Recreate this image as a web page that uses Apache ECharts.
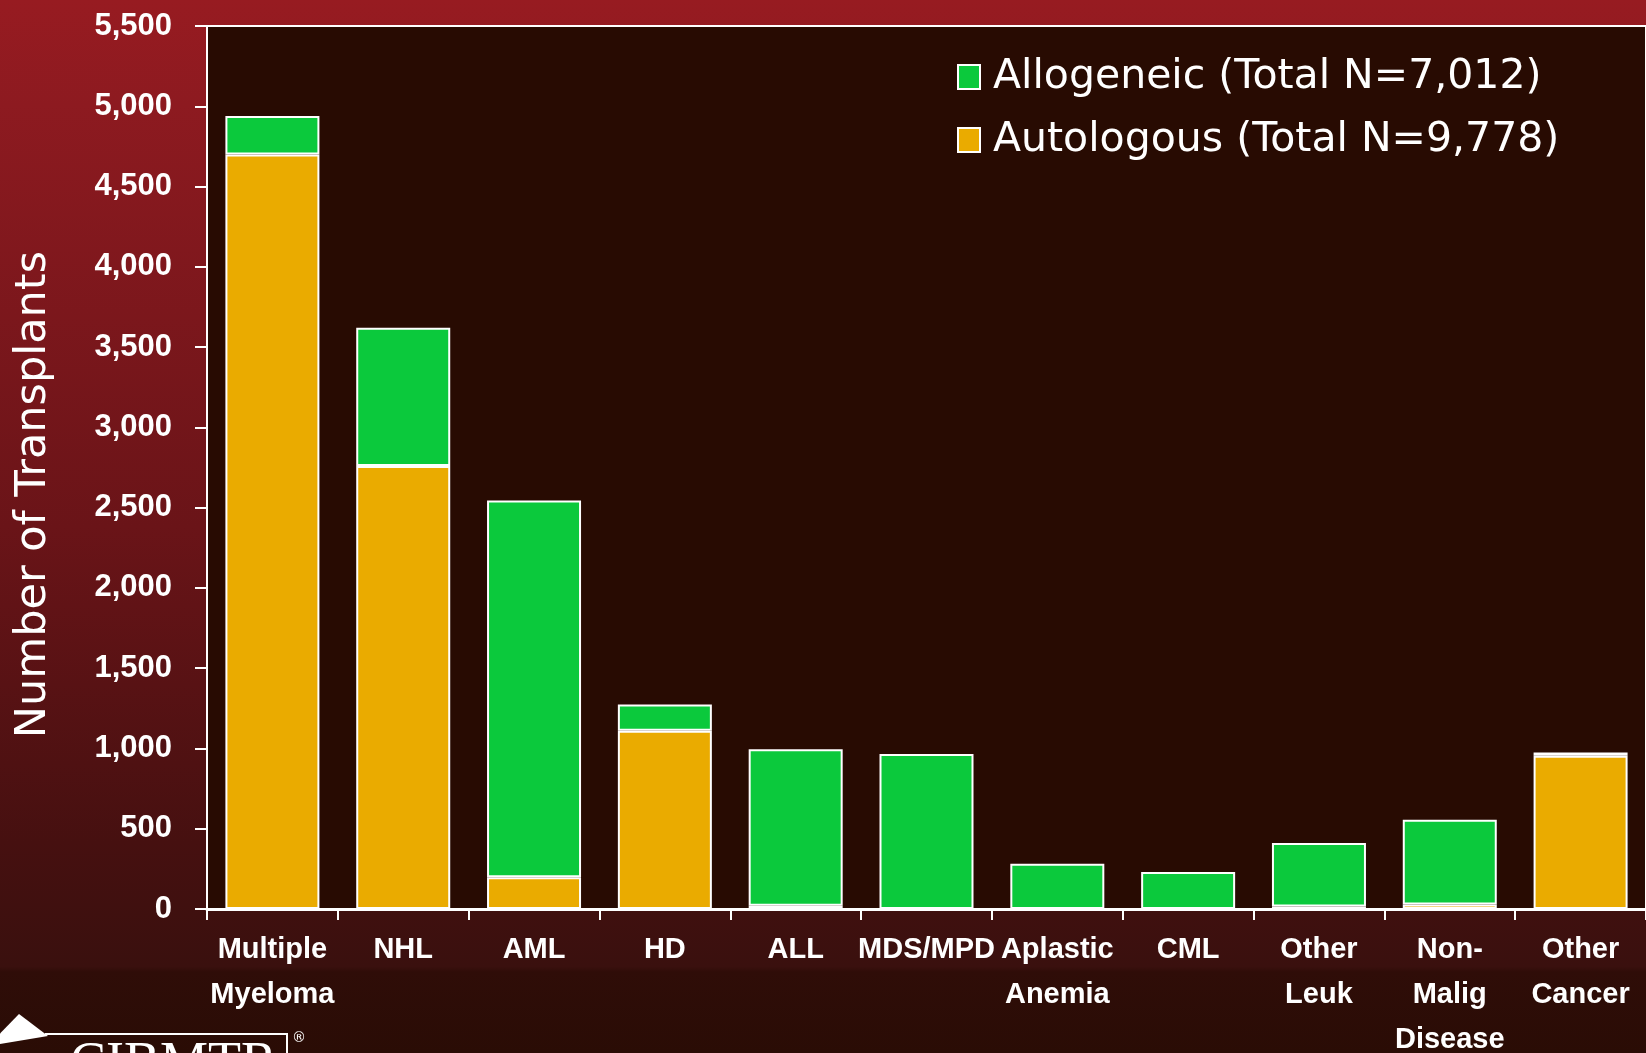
<!DOCTYPE html>
<html>
<head>
<meta charset="utf-8">
<script src="https://cdn.jsdelivr.net/npm/echarts@6/dist/echarts.min.js"></script>
<style>
  html, body { margin: 0; padding: 0; overflow: hidden; background: #2a0c05; }
  #chart { width: 1646px; height: 1053px; }
</style>
</head>
<body>
<div id="chart"></div>
<script>
// transplants by disease, stacked autologous + allogeneic
const categories = ['Multiple\nMyeloma', 'NHL', 'AML', 'HD', 'ALL', 'MDS/MPD',
  'Aplastic\nAnemia', 'CML', 'Other\nLeuk', 'Non-\nMalig\nDisease', 'Other\nCancer'];
const autologous = [4700, 2760, 197, 1110, 20, 0, 0, 0, 15, 28, 955];
const allogeneic = [240, 860, 2347, 164, 975, 965, 282, 230, 396, 528, 20];
const seriesNames = ['Allogeneic (Total N=7,012)', 'Autologous (Total N=9,778)'];
const yMin = 0, yMax = 5500, yStep = 500;

const narrow = "'Liberation Sans Narrow', 'Arial Narrow', 'Liberation Sans', sans-serif";
const plain = "'DejaVu Sans', Verdana, sans-serif";

const chart = echarts.init(document.getElementById('chart'));

function barStyle(color) {
  return { color: color, borderColor: '#ffffff', borderWidth: 2 };
}

chart.setOption({
  animation: false,
  backgroundColor: new echarts.graphic.LinearGradient(0, 0, 0, 1, [
    { offset: 0, color: '#971b21' },
    { offset: 0.1, color: '#8d1a20' },
    { offset: 0.5, color: '#6a1418' },
    { offset: 0.8, color: '#461010' },
    { offset: 0.918, color: '#3a100e' },
    { offset: 0.923, color: '#2f0d08' },
    { offset: 1, color: '#2a0c05' }
  ]),
  grid: {
    left: 207, top: 26, right: 0, bottom: 144,
    outerBoundsMode: 'none', containLabel: false,
    show: true, backgroundColor: '#280b02',
    borderColor: '#ffffff', borderWidth: 2
  },
  legend: {
    orient: 'vertical', left: 952, top: 47,
    data: seriesNames,
    icon: 'rect', itemWidth: 22, itemHeight: 24, itemGap: 13,
    itemStyle: { borderColor: '#ffffff', borderWidth: 2 },
    textStyle: { color: '#ffffff', fontFamily: plain, fontSize: 41, lineHeight: 50, padding: [0, 0, 0, 8] }
  },
  xAxis: {
    type: 'category',
    data: categories,
    axisLine: { lineStyle: { color: '#ffffff', width: 3 } },
    axisTick: { show: true, length: 11, lineStyle: { color: '#ffffff', width: 2 } },
    axisLabel: {
      interval: 0, margin: 18, color: '#ffffff',
      fontFamily: narrow, fontWeight: 'bold', fontSize: 29, lineHeight: 45
    }
  },
  yAxis: {
    type: 'value',
    min: yMin, max: yMax, interval: yStep,
    name: 'Number of Transplants',
    nameLocation: 'middle', nameGap: 152,
    nameTextStyle: { color: '#ffffff', fontFamily: plain, fontSize: 43, padding: [0, 54, 0, 0] },
    axisLine: { show: true, lineStyle: { color: '#ffffff', width: 2 } },
    axisTick: { show: true, inside: false, length: 12, lineStyle: { color: '#ffffff', width: 2 } },
    splitLine: { show: false },
    axisLabel: {
      margin: 35, color: '#ffffff',
      fontFamily: narrow, fontWeight: 'bold', fontSize: 31,
      formatter: v => v.toLocaleString('en-US')
    }
  },
  series: [
    {
      name: seriesNames[1], type: 'bar', stack: 'all',
      data: autologous, barWidth: 94,
      itemStyle: barStyle('#eaab00')
    },
    {
      name: seriesNames[0], type: 'bar', stack: 'all',
      data: allogeneic, barWidth: 94,
      itemStyle: barStyle('#0bc93c')
    }
  ],
  // CIBMTR logo, cut off by the bottom edge
  graphic: [
    { type: 'polygon', shape: { points: [[19, 1014], [48, 1036], [-12, 1046]] }, style: { fill: '#ffffff' } },
    { type: 'polyline', shape: { points: [[45, 1034], [287, 1034], [287, 1060]] }, style: { stroke: '#ffffff', lineWidth: 2, fill: null } },
    { type: 'text', left: 70, top: 1038, style: { text: 'CIBMTR', fill: '#ffffff', font: '54px "Liberation Serif", serif' } },
    { type: 'text', left: 292, top: 1031, style: { text: '®', fill: '#ffffff', font: '14px "DejaVu Sans", sans-serif' } }
  ]
});
</script>
</body>
</html>
